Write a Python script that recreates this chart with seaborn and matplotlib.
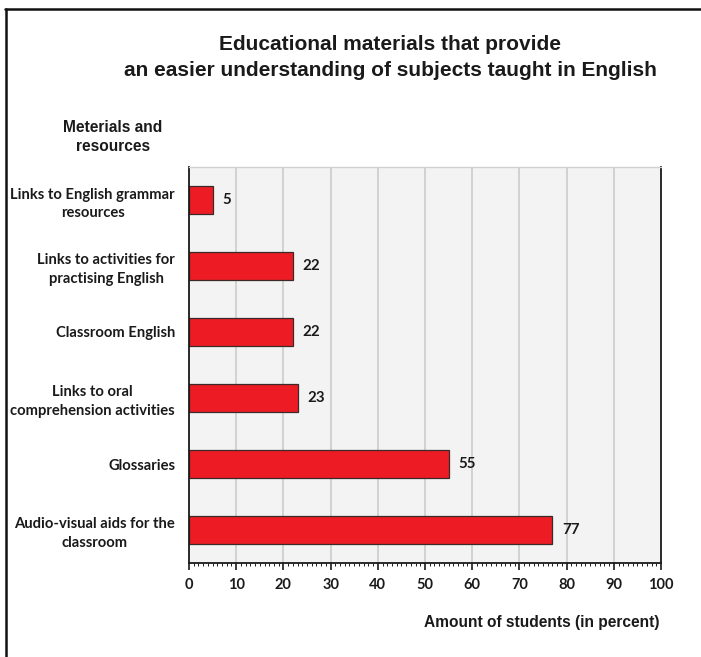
import matplotlib
matplotlib.use("Agg")
import matplotlib.pyplot as plt
import seaborn as sns
import pandas as pd
from matplotlib.ticker import MultipleLocator
from matplotlib.lines import Line2D

categories = [
    "Links to English grammar\nresources",
    "Links to activities for\npractising English",
    "Classroom English",
    "Links to oral\ncomprehension activities",
    "Glossaries",
    "Audio-visual aids for the\nclassroom",
]
values = [5, 22, 22, 23, 55, 77]
xticks = list(range(0, 101, 10))

df = pd.DataFrame({"cat": categories, "val": values})

sns.set_theme(style="white")
plt.rcParams["font.family"] = ["Liberation Sans", "DejaVu Sans"]

fig = plt.figure(figsize=(7.01, 6.57), dpi=100)
ax = fig.add_axes([189/701, 1-563/657, (661-189)/701, (563-167)/657])

sns.barplot(data=df, x="val", y="cat", orient="h", color="#ed1c24",
            edgecolor="#3a2a2a", linewidth=0.9, width=0.41, saturation=1, ax=ax)

ax.set_facecolor("#f2f3f2")
ax.set_xlim(0, 100)
ax.set_ylim(5.5, -0.5)
ax.set_xticks(xticks)
ax.xaxis.set_minor_locator(MultipleLocator(1))
ax.grid(axis="x", which="major", color="#cbcdcb", linewidth=1.2)
ax.set_axisbelow(True)
for s in ["left", "bottom", "right"]:
    ax.spines[s].set_color("#1a1a1a")
    ax.spines[s].set_linewidth(1.3)
ax.spines["top"].set_color("#d0d0d0")
ax.spines["top"].set_linewidth(1.0)

ax.tick_params(axis="x", which="major", direction="out", length=5, width=1.2,
               color="#1a1a1a", pad=6, bottom=True)
ax.tick_params(axis="x", which="minor", direction="out", length=2.5, width=0.7,
               color="#1a1a1a", bottom=True)
ax.tick_params(axis="y", length=0, pad=10)
for lab in ax.get_xticklabels():
    lab.set_fontfamily(["Lato", "DejaVu Sans"])
    lab.set_fontweight("bold")
    lab.set_fontsize(10.5)
    lab.set_color("#1a1a1a")
ax.set_yticks(range(len(categories)))
ax.set_yticklabels(categories, fontfamily=["Lato", "DejaVu Sans"], fontweight="bold",
                   fontsize=10.6, color="#1a1a1a", ha="right", multialignment="center",
                   linespacing=1.45)
ax.set_xlabel("")
ax.set_ylabel("")

for i, v in enumerate(values):
    ax.annotate(str(v), (v, i), xytext=(7, 0), textcoords="offset points",
                va="center", ha="left", fontfamily=["Lato", "DejaVu Sans"],
                fontweight="bold", fontsize=10.8, color="#1a1a1a")

fig.text(390/701, 1-45/657, "Educational materials that provide",
         ha="center", va="center", fontsize=15, fontweight="bold", color="#1a1a1a")
fig.text(390/701, 1-70/657, "an easier understanding of subjects taught in English",
         ha="center", va="center", fontsize=15, fontweight="bold", color="#1a1a1a")
fig.text(113/701, 1-137/657, "Meterials and\nresources", ha="center", va="center",
         fontsize=11.2, fontweight="bold", color="#1a1a1a", linespacing=1.3)
fig.text(659/701, 1-622/657, "Amount of students (in percent)", ha="right",
         va="center", fontsize=11.2, fontweight="bold", color="#1a1a1a")

# frame lines (left and top)
fig.add_artist(Line2D([6/701, 6/701], [0, 1-9/657], color="#111111", linewidth=1.8,
                      transform=fig.transFigure))
fig.add_artist(Line2D([5/701, 1], [1-9/657, 1-9/657], color="#111111", linewidth=1.8,
                      transform=fig.transFigure))

fig.savefig("out.png", dpi=100)
